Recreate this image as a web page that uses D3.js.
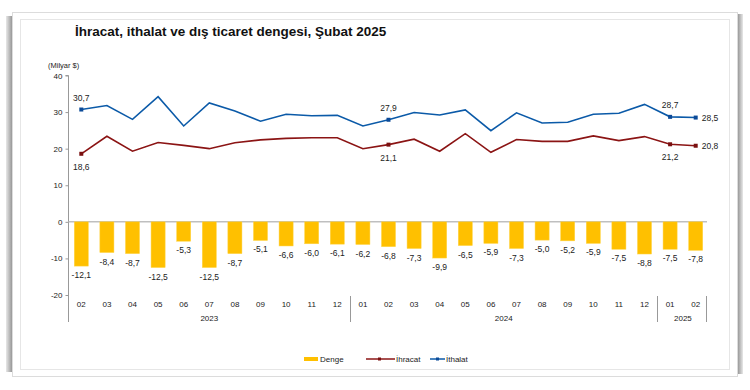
<!DOCTYPE html>
<html><head><meta charset="utf-8">
<script src="https://cdn.jsdelivr.net/npm/d3@7"></script>
<style>body{margin:0;background:#fff;} svg{display:block;font-family:Arial,"Liberation Sans",sans-serif;}</style>
</head><body>
<svg id="c" width="750" height="390"></svg>
<script>
const months = ["02","03","04","05","06","07","08","09","10","11","12","01","02","03","04","05","06","07","08","09","10","11","12","01","02"];
const years = [{label:"2023", from:0, to:10},{label:"2024", from:11, to:22},{label:"2025", from:23, to:24}];
const denge = [-12.1,-8.4,-8.7,-12.5,-5.3,-12.5,-8.7,-5.1,-6.6,-6.0,-6.1,-6.2,-6.8,-7.3,-9.9,-6.5,-5.9,-7.3,-5.0,-5.2,-5.9,-7.5,-8.8,-7.5,-7.8];
const ihracat = [18.6,23.4,19.3,21.7,20.9,20.0,21.6,22.4,22.8,23.0,23.0,20.0,21.1,22.6,19.3,24.1,19.0,22.5,22.0,22.0,23.5,22.2,23.3,21.2,20.8];
const ithalat = [30.7,31.8,28.0,34.2,26.2,32.5,30.3,27.5,29.4,29.0,29.1,26.2,27.9,29.9,29.2,30.6,24.9,29.8,27.0,27.2,29.4,29.7,32.1,28.7,28.5];
const yTicks = [-20,-10,0,10,20,30,40];
const labeledIdx = [0,12,23,24];

const svg = d3.select("#c");
const loc = d3.formatLocale({decimal:",", thousands:".", grouping:[3], currency:["","$"], minus:"-"});
const fmt = loc.format(".1f");
const fmtInt = loc.format("d");

// frame
const defs = svg.append("defs");
const gl = defs.append("linearGradient").attr("id","gl").attr("x1","0").attr("x2","1");
gl.append("stop").attr("offset","0").attr("stop-color","#e8e8e8");
gl.append("stop").attr("offset","1").attr("stop-color","#8a8a8a");
const gr = defs.append("linearGradient").attr("id","gr").attr("x1","0").attr("x2","1");
gr.append("stop").attr("offset","0").attr("stop-color","#8a8a8a");
gr.append("stop").attr("offset","1").attr("stop-color","#e8e8e8");
svg.append("rect").attr("x",6).attr("y",16).attr("width",7).attr("height",356).attr("fill","url(#gl)");
svg.append("rect").attr("x",737).attr("y",14).attr("width",6).attr("height",360).attr("fill","url(#gr)");
svg.append("rect").attr("x",12.5).attr("y",12.5).attr("width",725).attr("height",364).attr("fill","#fff").attr("stroke","#dcdcdc");
svg.append("rect").attr("x",20.5).attr("y",19.5).attr("width",709).attr("height",350).attr("fill","#fff").attr("stroke","#e6e6e6");

svg.append("text").attr("x",75).attr("y",36).attr("font-size",13.5).attr("font-weight","bold").attr("fill","#111")
  .text("İhracat, ithalat ve dış ticaret dengesi, Şubat 2025");
svg.append("text").attr("x",48).attr("y",68).attr("font-size",7.5).attr("fill","#222").text("(Milyar $)");

const x = d3.scaleBand().domain(d3.range(months.length)).range([68.5,708.5]).paddingInner(0.45).paddingOuter(0.225);
const y = d3.scaleLinear().domain([-20,40]).range([295,75.5]);
const cx = i => x(i) + x.bandwidth()/2;

// y axis
const yAxis = d3.axisLeft(y).tickValues(yTicks).tickSize(3).tickFormat(fmtInt);
const ga = svg.append("g").attr("transform","translate(68.5,0)").call(yAxis);
ga.select(".domain").attr("stroke","#999").attr("d","M-3,75.5H0V322");
ga.selectAll(".tick line").attr("stroke","#999");
ga.selectAll(".tick text").attr("font-size",8).attr("fill","#222").attr("x",-6);

// zero line
svg.append("line").attr("x1",68.5).attr("x2",707).attr("y1",y(0)).attr("y2",y(0)).attr("stroke","#bfbfbf").attr("stroke-width",1.5);

// bars
svg.selectAll("rect.bar").data(denge).join("rect").attr("class","bar")
  .attr("x",(d,i)=>x(i)).attr("width",x.bandwidth())
  .attr("y",d=>y(Math.max(0,d))).attr("height",d=>Math.abs(y(d)-y(0)))
  .attr("fill","#FFC000").attr("stroke","#FFD54A").attr("stroke-width",0.5);
svg.selectAll("text.bl").data(denge).join("text").attr("class","bl")
  .attr("x",(d,i)=>cx(i)).attr("y",d=>y(d)+12).attr("text-anchor","middle")
  .attr("font-size",8.5).attr("fill","#222").text(d=>fmt(d));

// lines
const line = d3.line().x((d,i)=>cx(i)).y(d=>y(d));
svg.append("path").datum(ithalat).attr("d",line).attr("fill","none").attr("stroke","#0B5AA8").attr("stroke-width",1.6);
svg.append("path").datum(ihracat).attr("d",line).attr("fill","none").attr("stroke","#8B1414").attr("stroke-width",1.6);
labeledIdx.forEach(i=>{
  svg.append("rect").attr("x",cx(i)-2).attr("y",y(ithalat[i])-2).attr("width",4).attr("height",4).attr("fill","#0B4A98");
  svg.append("rect").attr("x",cx(i)-2).attr("y",y(ihracat[i])-2).attr("width",4).attr("height",4).attr("fill","#7A1010");
});
labeledIdx.forEach(i=>{
  if(i===24){
    svg.append("text").attr("x",cx(i)+6).attr("y",y(ithalat[i])+3).attr("font-size",8.5).attr("fill","#222").text(fmt(ithalat[i]));
    svg.append("text").attr("x",cx(i)+6).attr("y",y(ihracat[i])+3).attr("font-size",8.5).attr("fill","#222").text(fmt(ihracat[i]));
  } else {
    svg.append("text").attr("x",cx(i)).attr("y",y(ithalat[i])-9).attr("text-anchor","middle").attr("font-size",8.5).attr("fill","#222").text(fmt(ithalat[i]));
    svg.append("text").attr("x",cx(i)).attr("y",y(ihracat[i])+16).attr("text-anchor","middle").attr("font-size",8.5).attr("fill","#222").text(fmt(ihracat[i]));
  }
});

// x axis labels
svg.selectAll("text.xl").data(months).join("text").attr("class","xl")
  .attr("x",(d,i)=>cx(i)).attr("y",307).attr("text-anchor","middle").attr("font-size",8).attr("fill","#222").text(d=>d);
years.forEach(yr=>{
  svg.append("text").attr("x",(cx(yr.from)+cx(yr.to))/2).attr("y",321).attr("text-anchor","middle").attr("font-size",8).attr("fill","#222").text(yr.label);
});
[11,23].forEach(i=>{
  const xx = Math.round(x(i) - x.step()*x.paddingInner()/2)+0.5;
  svg.append("line").attr("x1",xx).attr("x2",xx).attr("y1",296).attr("y2",322).attr("stroke","#999");
});
svg.append("line").attr("x1",706.5).attr("x2",706.5).attr("y1",296).attr("y2",322).attr("stroke","#999");

// legend
const lg = svg.append("g").attr("font-size",8).attr("fill","#222");
lg.append("rect").attr("x",304).attr("y",357).attr("width",14).attr("height",4).attr("fill","#FFC000");
lg.append("text").attr("x",320).attr("y",362).text("Denge");
lg.append("line").attr("x1",366).attr("x2",395).attr("y1",359).attr("y2",359).attr("stroke","#8B1414").attr("stroke-width",1.5);
lg.append("rect").attr("x",378).attr("y",357.5).attr("width",3).attr("height",3).attr("fill","#7A1010");
lg.append("text").attr("x",396).attr("y",362).text("İhracat");
lg.append("line").attr("x1",430).attr("x2",445).attr("y1",359).attr("y2",359).attr("stroke","#0B5AA8").attr("stroke-width",1.5);
lg.append("rect").attr("x",436).attr("y",357.5).attr("width",3).attr("height",3).attr("fill","#0B4A98");
lg.append("text").attr("x",446).attr("y",362).text("İthalat");
</script>
</body></html>
